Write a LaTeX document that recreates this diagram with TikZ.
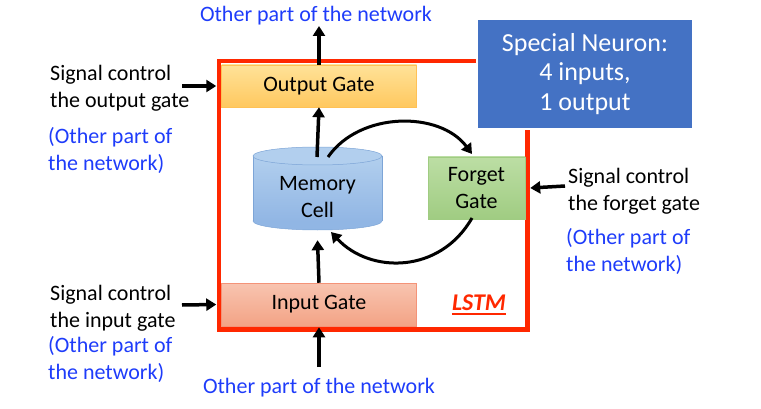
\documentclass[tikz,border=0pt]{standalone}
\usepackage{fontspec}
\setmainfont{Carlito}
\usetikzlibrary{arrows.meta,calc}
\definecolor{netblue}{RGB}{30,60,250}
\definecolor{lstmred}{RGB}{255,40,0}
\definecolor{boxblue}{RGB}{68,114,196}
\definecolor{ogtop}{RGB}{255,226,152}
\definecolor{ogbot}{RGB}{255,200,95}
\definecolor{igtop}{RGB}{248,196,176}
\definecolor{igbot}{RGB}{243,163,133}
\definecolor{fgtop}{RGB}{188,222,164}
\definecolor{fgbot}{RGB}{160,204,130}
\definecolor{mctop}{RGB}{178,207,238}
\definecolor{mcbot}{RGB}{145,182,228}
\definecolor{mcline}{RGB}{125,165,215}
\begin{document}
\begin{tikzpicture}[x=1pt,y=-1pt,
  arr/.style={line width=3.5pt,-{Triangle[length=10pt,width=12pt]}},
  carr/.style={line width=3pt,-{Triangle[length=10pt,width=12pt]}},
  gatebox/.style={rectangle,inner sep=0pt,font=\fontsize{22}{27}\selectfont,align=center},
  lbl/.style={inner sep=0pt,align=left,font=\fontsize{22}{27}\selectfont},
  bluelbl/.style={lbl,text=netblue}]
\useasboundingbox (0,0) rectangle (761,409);

% red LSTM frame
\draw[lstmred,line width=4.5pt] (219,61) rectangle (527.5,329.5);

% gates
\node[gatebox,top color=ogtop,bottom color=ogbot,draw=ogbot!90!orange,line width=0.5pt,
  minimum width=195pt,minimum height=42pt] (og) at (319,86) {Output Gate};
\node[gatebox,top color=igtop,bottom color=igbot,draw=igbot!90!red,line width=0.5pt,
  minimum width=195pt,minimum height=43pt] (ig) at (319,304.5) {Input Gate};
\node[gatebox,top color=fgtop,bottom color=fgbot,draw=fgbot,line width=0.5pt,
  minimum width=97pt,minimum height=62pt] (fg) at (476.5,188) {Forget\\Gate};

% memory cell cylinder
\filldraw[fill=mcbot,draw=mcline,line width=0.5pt] (317.5,221) ellipse [x radius=64.5, y radius=9];
\shade[top color=mctop,bottom color=mcbot] (253,156) rectangle (382,221);
\draw[mcline,line width=0.5pt] (253,156) -- (253,221) (382,156) -- (382,221);
\filldraw[fill=mctop,draw=mcline,line width=0.5pt] (317.5,156) ellipse [x radius=64.5, y radius=9];
\node[gatebox,minimum width=129pt,minimum height=84pt] (mem) at (317.5,197) {Memory\\Cell};

% special neuron box
\node[rectangle,fill=boxblue,draw=white,line width=1.5pt,minimum width=216pt,minimum height=110pt,
  text=white,align=center,font=\fontsize{26}{29.5}\selectfont] (box) at (585,74)
  {Special Neuron:\\4 inputs,\\1 output};

% LSTM label
\node[inner sep=0pt,text=lstmred,font=\fontsize{24}{26}\selectfont\bfseries\itshape] (lstm) at (479,303) {LSTM};
\draw[lstmred,line width=2pt] ([yshift=-3pt]lstm.south west) -- ([yshift=-3pt]lstm.south east);

% texts
\node[bluelbl] (ttop) at (316,16) {Other part of the network};
\node[bluelbl] (tbot) at (319,388) {Other part of the network};
\node[lbl,anchor=west] (sco) at (50,88) {Signal control\\the output gate};
\node[bluelbl,anchor=west] (bco) at (48,150) {(Other part of\\the network)};
\node[lbl,anchor=west] (scf) at (568,191) {Signal control\\the forget gate};
\node[bluelbl,anchor=west] (bcf) at (566,251) {(Other part of\\the network)};
\node[lbl,anchor=west] (sci) at (50,308) {Signal control\\the input gate};
\node[bluelbl,anchor=west] (bci) at (48,359) {(Other part of\\the network)};

% free ends
\coordinate (tout) at (319,26);
\coordinate (bin) at (319,367);
\coordinate (lo) at (182,86);
\coordinate (li) at (182,305);
\coordinate (rf) at (565,186);
\coordinate (mtop) at (317,157);
\coordinate (c1s) at (328,157);
\coordinate (c1e) at (472,154);
\coordinate (c2s) at (472,218);
\coordinate (c2e) at (331,232);

% straight arrows
\draw[arr] (og.north) -- (tout);
\draw[arr] (mtop) -- (og.south);
\draw[arr] (ig.north) -- ([yshift=-1pt]mem.south);
\draw[arr] (bin) -- ([yshift=-1pt]ig.south);
\draw[arr] (lo) -- ([xshift=-5pt]og.west);
\draw[arr] (li) -- ([xshift=-5pt]ig.west);
\draw[arr] (rf) -- ([xshift=5pt]fg.east);

% curved arrows
\draw[carr] (c1s) .. controls (360,111) and (440,111) .. (c1e);
\draw[carr] (c2s) .. controls (440,274) and (370,274) .. (c2e);
\end{tikzpicture}
\end{document}
